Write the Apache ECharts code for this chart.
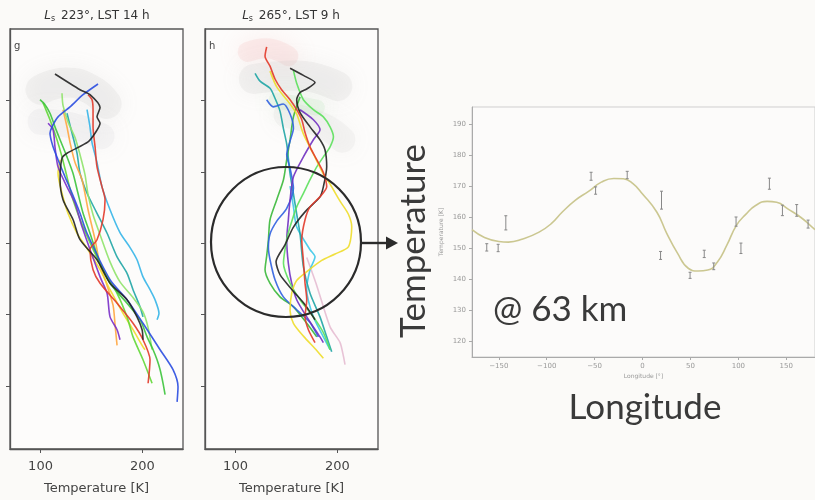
<!DOCTYPE html>
<html>
<head>
<meta charset="utf-8">
<script src="https://cdn.jsdelivr.net/npm/echarts@6/dist/echarts.min.js"></script>
<style>
  html, body { margin: 0; padding: 0; background: #fbfaf8; }
  #chart { width: 815px; height: 500px; }
</style>
</head>
<body>
<div id="chart"></div>
<script>
// ---- panel g profiles: [temperature K, altitude km] ----
const gBlack = [[114.2,83.7],[138.8,81.5],[148.6,80.8],[158.5,79],[155.5,77.7],[158.5,76.8],[153.5,75.4],[146.7,74.2],[126,72.6],[121.1,71.9],[119.2,68.9],[122.1,66.1],[132,63.3],[138.8,60.5],[155.5,57.7],[168.3,54.4],[185,52.1],[194.8,49.7],[199.8,47.9],[200.7,46.5]];
const gBlue = [[156.5,82.3],[141.8,80.8],[129,79.1],[117.2,77.7],[111.3,76.3],[109.3,75.4],[112.3,73.5],[117.2,71.7],[124.1,69.3],[131,67],[138.8,64.2],[145.7,61.4],[168.3,54.9],[185,52.1],[200.7,48.8],[217.5,45.1],[230.2,42.3],[235.1,39.9],[234.2,37.8]];
const gPurple = [[107.4,76.8],[112.3,75.9],[114.2,73.5],[117.2,70.7],[126,67.9],[133.9,65.6],[140.8,62.3],[158.5,55.3],[165.4,53],[168.3,49.7],[175.2,47.9],[178.1,46.5]];
const gRed = [[146.7,80.8],[150.6,80.1],[151.6,78.7],[151.6,76.3],[153.6,73.5],[155.5,70.7],[160.4,67.9],[163.4,66.1],[161.4,63.3],[155.5,60.5],[148.6,59.1],[151.6,56.3],[158.5,54.4],[175.2,51.6],[190.9,48.8],[200.7,46.5],[207.6,43.7],[205.7,40.4]];
const gGreen = [[99.5,80.1],[104.4,79.4],[109.3,78.2],[114.2,76.3],[119.2,74.5],[126,72.1],[131.9,69.8],[136.8,67],[141.8,64.2],[148.6,61.4],[158.5,57.2],[168.3,54.4],[185,51.6],[197.8,49.3],[204.7,46.9],[210.6,45.1],[214.5,43.7],[217.5,42.3],[220.4,40.4],[222.4,38.8]];
const gLightGreen = [[121.1,81],[122.1,79.3],[127,77],[133.9,74.8],[138.8,72.4],[143.7,69.6],[146.7,66.8],[151.6,64],[158.5,61.2],[168.3,57.4],[178.1,54.6],[190.9,52.4],[200.7,50.4],[205.7,48.2],[209.6,45.1]];
const gLime = [[102.4,79.7],[109.3,77.3],[116.2,74.5],[121.1,72.1],[126,69.3],[131.9,66.1],[141.8,62.3],[161.4,56.3],[175.2,53],[185,49.7],[190.9,46.9],[200.7,43.7],[209.6,40.4]];
const gCyan = [[145.7,78.7],[148.6,76.3],[150.6,74.1],[155.5,71.3],[160.4,67.9],[168.3,64.7],[178.1,61.5],[188,59.4],[194.8,57.7],[200.7,55.3],[207.6,53.5],[212.5,52.1],[216.4,50.2],[214.5,49.3]];
const gTeal = [[126,78.2],[131,75.4],[135.9,72.6],[138.8,69.8],[145.7,67],[155.5,64.2],[165.4,61.4],[175.2,58.1],[185,55.8],[190.9,53.5],[197.8,51.1],[200.7,49.7]];
const gYellow = [[119.2,71.7],[117.2,69.8],[121.1,67],[127,64.2],[135.9,61.4],[145.7,59.3],[158.5,56.3],[168.3,53.5],[181.1,50.2],[190.9,47.9],[200.7,45.5],[202.7,45.1]];
const gOrange = [[122.1,78.7],[126,76.3],[129,74.1],[133.9,71.3],[140.8,68.9],[146.7,64.7],[153.6,60.5],[158.5,57],[165.4,54.1],[171.3,51.3],[173.3,48.5],[175.2,45.7]];
const gHazeGray = [[100,81.5],[125,82.5],[150,81.5],[165,79.5]];
const gHazeGray2 = [[100,77],[130,76.5],[160,75]];

// ---- panel h profiles ----
const hRed = [[130.6,87.5],[129,86.2],[133.9,84.8],[138.8,83],[145.3,81.5],[153.6,80.1],[160.1,78.7],[165.1,77.3],[168.3,75.5],[173.2,73.5],[179.8,71.7],[186.3,69.9],[189.6,67.9],[183,66.5],[173.2,65.1],[168.3,63.3],[165.1,60.5],[166.6,57.7],[168.3,54.4],[170,52.1],[168.3,49.7],[171.6,47.9],[178.1,46.1]];
const hYellow = [[133.9,84.1],[140.5,81.9],[153.6,79.5],[160.1,78.1],[166.7,75.3],[176.5,72.5],[186.3,69.7],[192.9,68.3],[202.7,65.9],[210.8,64.1],[214.2,62.3],[210.9,59.5],[197.8,58.5],[184.7,57.6],[171.6,56.2],[160.1,54.8],[155.2,53],[153.6,50.6],[156.9,48.8],[166.7,47],[179.8,45],[186.3,43.9]];
const hBlack = [[153.6,84.5],[166.7,83.5],[178.1,82.5],[170,81.6],[163.4,81.1],[160.1,80.1],[163.4,78.3],[173.2,76.3],[183,74.5],[187.9,73.1],[189.6,70.7],[186.3,67.9],[183,66.5],[168.3,64.4],[156.6,62.2],[148.7,59.8],[139.8,57.4],[143.7,55.6],[155.5,53.5],[168.3,51.4],[178.1,49.3]];
const hGreen = [[156.9,84.2],[160.1,82.4],[166.7,80.1],[176.5,78.7],[186.3,77.7],[192.9,76.3],[196.2,74.9],[192.9,73.5],[186.3,72.1],[179.8,70.7],[173.2,68.9],[166.7,67],[160.1,65.1],[153.6,62.3],[150.3,60.5],[147.1,57.2],[153.6,54.4],[163.4,52.1],[176.5,49.7],[186.3,47.5],[192.9,45.1]];
const hGrass = [[163.4,80.5],[156.9,77.7],[153.6,74.5],[150.3,71.7],[147.1,68.9],[140.5,66.1],[133.9,63.3],[132.3,60.5],[130.6,58.2],[129,56.3],[133.9,54.4],[143.7,52.5],[156.9,51.1],[170,48.8],[179.8,46.9]];
const hTeal = [[119.2,83.8],[124.1,82.7],[133.9,81.7],[138.8,80.3],[143.7,78.5],[147,76.1],[150.3,73.9],[151.9,71.9],[153.6,69.7],[156.9,66.9],[160.1,64.1],[163.4,61.3],[166.7,56.7],[173.2,53],[183,49.7],[189.6,46.9],[194.5,44.8]];
const hBlue = [[130.6,80.1],[137.2,79.1],[147,79.5],[153.6,78.1],[156.9,76.1],[153.6,74.3],[150.3,72.4],[153.6,70.5],[156.9,67.7],[150.3,64.9],[140.5,63.1],[133.9,61.3],[132.3,59.4],[133.9,57.7],[138.8,54.9],[147,52.5],[160.1,50.7],[173.2,48.9],[181.4,46.9]];
const hPurple = [[163.4,78.7],[176.5,77.3],[183,75.9],[176.5,74.5],[166.7,72.1],[156.9,69.3],[153.6,66.1],[151.9,63.3],[150.3,60.5],[151.9,57.2],[155.2,54.4],[160.1,52.1],[170,49.7],[183,46.9],[186.3,46.1]];
const hCyan = [[153.6,68],[156.9,65.1],[160.1,62.3],[173.2,59.1],[178.1,58.1],[173.2,56.3],[169.9,53.5],[176.5,49.7],[186.3,46.9],[192.9,45.1]];
const hPink = [[170,58],[180,54],[192.9,48.3],[202.7,46.1],[206,44.2],[207.6,43]];
const hHazePink = [[112,86.8],[130,87.3],[152,86.2]];
const hHazeGray = [[118,83],[160,83.5],[200,82]];
const hHazeGray2 = [[150,78],[185,76.5],[205,74.5]];
const hHazeGreen = [[140,80],[180,79]];

// ---- inset: temperature vs longitude at 63 km ----
const fitLon = [-178,-165,-150,-140,-125,-108,-95,-84,-70,-56,-43,-30,-20,-10,0,15,25,36,48,58,68,78,88,98,108,118,130,140,152,165,175,180];
const fitT   = [156.0,153.5,152.2,152.0,153.0,155.2,158.0,161.6,165.5,168.4,171.3,172.5,172.4,170.8,167.5,161.6,155.0,148.7,143.5,142.7,143.0,145.5,151.0,157.4,161.0,163.8,165.1,164.8,162.6,160.0,157.4,156.0];
const obsLon = [-162.6,-150.7,-142.7,-53.7,-49,-16,19.8,18.8,49.6,64.4,74.3,97.6,102.7,132.4,146,160.9,172.8];
const obsT   = [150.3,150.1,158.2,173.2,168.6,173.6,165.5,147.7,141.3,148.2,144.2,158.6,150.0,170.8,162.2,162.2,157.8];
const obsErr = [0.7,0.7,1.8,0.8,0.7,0.7,2.4,0.8,0.5,0.7,0.6,1.0,1.2,1.3,1.2,1.4,0.8];

const tempTicks = [100, 200];
const altTicks = [40, 50, 60, 70, 80];
const lonTicks = [-150, -100, -50, 0, 50, 100, 150];
const insetTTicks = [120, 130, 140, 150, 160, 170, 180, 190];

const myChart = echarts.init(document.getElementById('chart'));

function profile(name, data, color, grid) {
  return {
    name: name, type: 'line', xAxisIndex: grid, yAxisIndex: grid,
    data: data, symbol: 'none', smooth: 0.25,
    lineStyle: { color: color, width: 1.6, opacity: 0.9 },
    silent: true, z: 3
  };
}
function haze(data, color, width, opacity, grid) {
  return {
    type: 'line', xAxisIndex: grid, yAxisIndex: grid, data: data,
    symbol: 'none', smooth: true, silent: true, z: 2,
    lineStyle: { color: color, width: width, opacity: opacity, cap: 'round',
      shadowBlur: 22, shadowColor: color }
  };
}

const panelFont = { fontFamily: 'DejaVu Sans', color: '#444' };

function panelX(grid) {
  return {
    gridIndex: grid, type: 'value', min: 70, max: 240,
    name: 'Temperature [K]', nameLocation: 'middle', nameGap: 33,
    nameTextStyle: Object.assign({ fontSize: 13 }, panelFont),
    axisLine: { lineStyle: { color: '#555', width: 1.3 } },
    axisTick: { length: 4, customValues: tempTicks, lineStyle: { color: '#555' } },
    axisLabel: Object.assign({ fontSize: 13, margin: 11, customValues: tempTicks }, panelFont),
    splitLine: { show: false }
  };
}
function panelY(grid) {
  return {
    gridIndex: grid, type: 'value', min: 31.2, max: 90,
    axisLine: { lineStyle: { color: '#555', width: 1.3 } },
    axisTick: { length: 4, customValues: altTicks, lineStyle: { color: '#555' } },
    axisLabel: { show: false, customValues: altTicks },
    splitLine: { show: false }
  };
}

const series = [
  haze(gHazeGray, '#a0a0a0', 30, 0.09, 0),
  haze(gHazeGray2, '#a8a0b0', 26, 0.08, 0),
  profile('g teal', gTeal, '#1fa5a5', 0),
  profile('g cyan', gCyan, '#35b5e8', 0),
  profile('g orange', gOrange, '#ffa640', 0),
  profile('g yellow', gYellow, '#eedd2a', 0),
  profile('g light green', gLightGreen, '#8fe36a', 0),
  profile('g lime', gLime, '#62d836', 0),
  profile('g green', gGreen, '#3cc43c', 0),
  profile('g purple', gPurple, '#7a2fc8', 0),
  profile('g blue', gBlue, '#2a4de0', 0),
  profile('g red', gRed, '#e23a2a', 0),
  profile('g black', gBlack, '#222222', 0),

  haze(hHazePink, '#f2a8a8', 20, 0.16, 1),
  haze(hHazeGray, '#a0a0a0', 30, 0.09, 1),
  haze(hHazeGray2, '#a0a0a0', 26, 0.08, 1),
  haze(hHazeGreen, '#70d070', 16, 0.09, 1),
  profile('h pink', hPink, '#e6bdd2', 1),
  profile('h cyan', hCyan, '#3cc8e8', 1),
  profile('h teal', hTeal, '#1fa5a5', 1),
  profile('h grass', hGrass, '#3ab83a', 1),
  profile('h blue', hBlue, '#3060e0', 1),
  profile('h purple', hPurple, '#7030c0', 1),
  profile('h green', hGreen, '#5ce05c', 1),
  profile('h yellow', hYellow, '#eedd2a', 1),
  profile('h black', hBlack, '#222222', 1),
  profile('h red', hRed, '#e23a2a', 1),

  {
    name: 'fit', type: 'line', xAxisIndex: 2, yAxisIndex: 2,
    data: fitLon.map((v, i) => [v, fitT[i]]), smooth: true, symbol: 'none',
    lineStyle: { color: '#cbc791', width: 1.6 }, silent: true
  },
  {
    name: 'obs', type: 'custom', xAxisIndex: 2, yAxisIndex: 2,
    data: obsLon.map((v, i) => [v, obsT[i], obsErr[i]]),
    renderItem: function (params, api) {
      const x = api.value(0), y = api.value(1), e = api.value(2);
      const top = api.coord([x, y + e]);
      const bot = api.coord([x, y - e]);
      const st = { stroke: '#888', lineWidth: 1 };
      return {
        type: 'group',
        children: [
          { type: 'line', shape: { x1: top[0], y1: top[1] - 1.5, x2: bot[0], y2: bot[1] + 1.5 }, style: st },
          { type: 'line', shape: { x1: top[0] - 1.5, y1: top[1] - 1.5, x2: top[0] + 1.5, y2: top[1] - 1.5 }, style: st },
          { type: 'line', shape: { x1: bot[0] - 1.5, y1: bot[1] + 1.5, x2: bot[0] + 1.5, y2: bot[1] + 1.5 }, style: st }
        ]
      };
    },
    silent: true, z: 4
  }
];

const option = {
  backgroundColor: '#fbfaf8',
  animation: false,
  grid: [
    { left: 10, top: 29, width: 173, height: 420, show: true, borderColor: '#555', borderWidth: 1.3, backgroundColor: '#fdfcfb' },
    { left: 205, top: 29, width: 173, height: 420, show: true, borderColor: '#555', borderWidth: 1.3, backgroundColor: '#fdfcfb' },
    { left: 472, top: 107, width: 349, height: 250, show: true, borderColor: '#cfcfcf', borderWidth: 1, backgroundColor: '#fcfbfa' }
  ],
  xAxis: [
    panelX(0),
    panelX(1),
    {
      gridIndex: 2, type: 'value', min: -178, max: 180,
      name: 'Longitude [°]', nameLocation: 'middle', nameGap: 16,
      nameTextStyle: { fontSize: 6, color: '#999', fontFamily: 'DejaVu Sans' },
      axisLine: { onZero: false, lineStyle: { color: '#aaa', width: 1 } },
      axisTick: { length: 3, customValues: lonTicks, lineStyle: { color: '#aaa' } },
      axisLabel: { fontSize: 7, color: '#999', margin: 6, fontFamily: 'DejaVu Sans', customValues: lonTicks,
        formatter: v => String(v).replace('-', '\u2212') },
      splitLine: { show: false }
    }
  ],
  yAxis: [
    panelY(0),
    panelY(1),
    {
      gridIndex: 2, type: 'value', min: 115, max: 195.5,
      name: 'Temperature [K]', nameLocation: 'middle', nameGap: 28,
      nameTextStyle: { fontSize: 6, color: '#999', fontFamily: 'DejaVu Sans' },
      axisLine: { onZero: false, lineStyle: { color: '#aaa', width: 1 } },
      axisTick: { length: 3, customValues: insetTTicks, lineStyle: { color: '#aaa' } },
      axisLabel: { fontSize: 7, color: '#999', margin: 6, fontFamily: 'DejaVu Sans', customValues: insetTTicks },
      splitLine: { show: false }
    }
  ],
  graphic: [
    { type: 'text', x: 97, y: 16, z: 10, style: {
      text: '{i|L}{s|s} 223°, LST 14 h', fill: '#333', font: '12px "DejaVu Sans"',
      align: 'center', verticalAlign: 'middle',
      rich: { i: { fontStyle: 'italic', fontSize: 12, fontFamily: 'DejaVu Sans', fill: '#333' },
              s: { fontSize: 8, fontFamily: 'DejaVu Sans', fill: '#333', padding: [6, 2, 0, 0] } } } },
    { type: 'text', x: 291, y: 16, z: 10, style: {
      text: '{i|L}{s|s} 265°, LST 9 h', fill: '#333', font: '12px "DejaVu Sans"',
      align: 'center', verticalAlign: 'middle',
      rich: { i: { fontStyle: 'italic', fontSize: 12, fontFamily: 'DejaVu Sans', fill: '#333' },
              s: { fontSize: 8, fontFamily: 'DejaVu Sans', fill: '#333', padding: [6, 2, 0, 0] } } } },
    { type: 'text', x: 14, y: 46, z: 10, style: { text: 'g', fill: '#444', font: '10px "DejaVu Sans"', verticalAlign: 'middle' } },
    { type: 'text', x: 209, y: 46, z: 10, style: { text: 'h', fill: '#444', font: '10px "DejaVu Sans"', verticalAlign: 'middle' } },
    { type: 'circle', z: 20, shape: { cx: 286, cy: 242, r: 75 }, style: { fill: 'none', stroke: '#2b2b2b', lineWidth: 2.2 } },
    { type: 'line', z: 20, shape: { x1: 361, y1: 243, x2: 390, y2: 243 }, style: { stroke: '#2b2b2b', lineWidth: 2.4 } },
    { type: 'polygon', z: 20, shape: { points: [[386, 236.5], [398, 243], [386, 249.5]] }, style: { fill: '#2b2b2b' } },
    { type: 'text', z: 20, x: 414, y: 241, rotation: Math.PI / 2, style: {
      text: 'Temperature', fill: '#3a3a3a', font: '35px Lato', align: 'center', verticalAlign: 'middle' } },
    { type: 'text', z: 20, x: 493, y: 310, style: {
      text: '@ 63 km', fill: '#3a3a3a', font: '35px Lato', align: 'left', verticalAlign: 'middle' } },
    { type: 'text', z: 20, x: 645, y: 408, style: {
      text: 'Longitude', fill: '#3a3a3a', font: '35px Lato', align: 'center', verticalAlign: 'middle' } }
  ],
  series: series
};

myChart.setOption(option);
</script>
</body>
</html>
